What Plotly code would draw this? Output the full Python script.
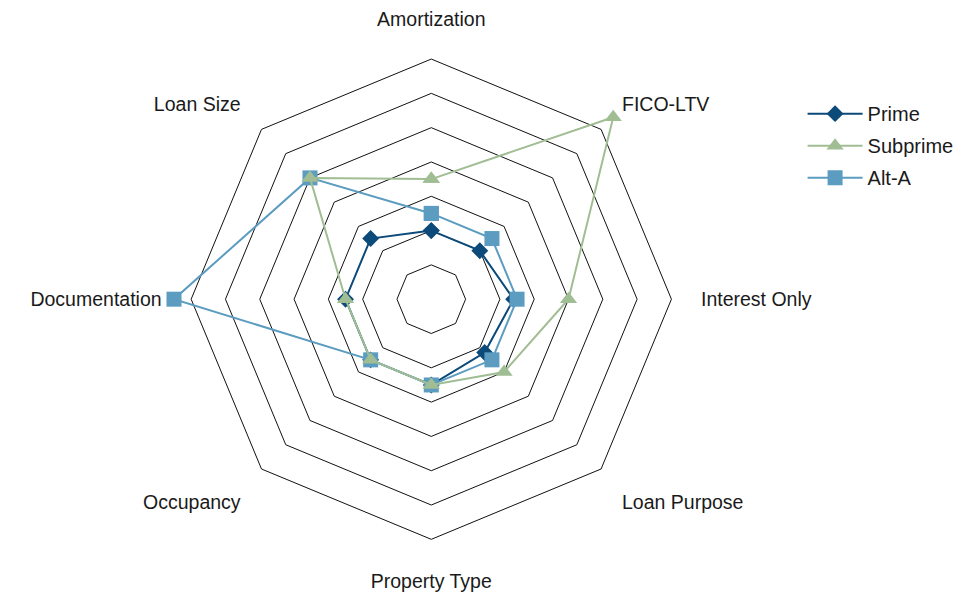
import plotly.graph_objects as go

categories = ["Amortization", "FICO-LTV", "Interest Only", "Loan Purpose",
              "Property Type", "Occupancy", "Documentation", "Loan Size"]
prime = [2.0, 2.0, 2.4, 2.2, 2.5, 2.5, 2.5, 2.5]
subprime = [3.5, 7.5, 4.0, 3.0, 2.5, 2.5, 2.5, 5.0]
alt_a = [2.5, 2.5, 2.5, 2.5, 2.5, 2.5, 7.5, 5.0]
ring_vals = [1, 2, 3, 4, 5, 6, 7]

def closed(v):
    return list(v) + [v[0]]

theta = closed(categories)

fig = go.Figure()
fig.add_trace(go.Scatterpolar(
    r=closed(prime), theta=theta, name="Prime", mode="lines+markers",
    line=dict(color="#0b4a79", width=2),
    marker=dict(symbol="diamond", size=13, color="#0b4a79"),
    legendrank=1, legendgroup="p"))
fig.add_trace(go.Scatterpolar(
    r=closed(alt_a), theta=theta, name="Alt-A", mode="lines+markers",
    line=dict(color="#5b9cc0", width=2),
    marker=dict(symbol="square", size=15, color="#5b9cc0"),
    legendrank=3, legendgroup="a"))
fig.add_trace(go.Scatterpolar(
    r=closed(subprime), theta=theta, name="Subprime", mode="lines+markers",
    line=dict(color="#a0bd93", width=2),
    marker=dict(symbol="triangle-up", size=15, color="#a0bd93"),
    legendrank=2, legendgroup="s"))

fig.update_layout(
    width=974, height=596,
    margin=dict(l=0, r=0, t=0, b=0),
    paper_bgcolor="white", plot_bgcolor="white",
    font=dict(family="Liberation Sans, Arial, sans-serif", size=19.5, color="#1a1a1a"),
    polar=dict(
        domain=dict(x=[0.1786, 0.7070], y=[0.0663, 0.9297]),
        bgcolor="white",
        gridshape="linear",
        radialaxis=dict(range=[0, 7.5], tickvals=ring_vals, showticklabels=False,
                        showline=False, ticks="", gridcolor="#111111", gridwidth=1),
        angularaxis=dict(direction="clockwise", rotation=90, showgrid=False,
                         showline=False, ticks="outside", ticklen=8,
                         tickcolor="rgba(0,0,0,0)",
                         categoryorder="array", categoryarray=categories,
                         tickfont=dict(size=19.5, color="#1a1a1a")),
    ),
    legend=dict(x=0.824, y=0.842, xanchor="left", yanchor="top",
                font=dict(size=20, color="#1a1a1a"), bgcolor="rgba(0,0,0,0)",
                itemwidth=55, tracegroupgap=3),
    showlegend=True,
)

fig.write_html("out.html")
